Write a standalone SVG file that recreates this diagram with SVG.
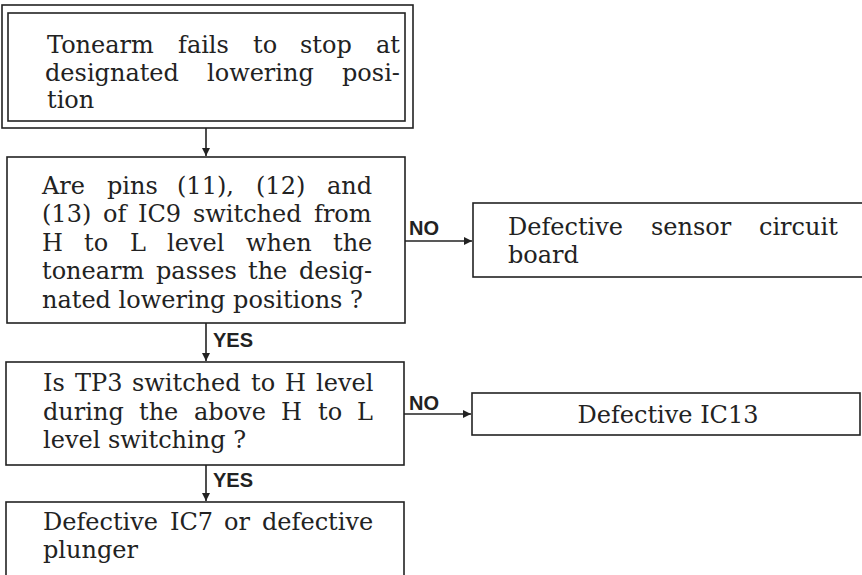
<svg xmlns="http://www.w3.org/2000/svg" width="862" height="575" viewBox="0 0 862 575">
<defs>
<style>
.box{fill:none;stroke:#222;stroke-width:1.6}
.t{font-family:"DejaVu Serif","Liberation Serif",serif;font-size:24px;fill:#222}
.lbl{font-family:"Liberation Sans",Arial,sans-serif;font-size:20px;font-weight:bold;fill:#222}
.conn{fill:none;stroke:#222;stroke-width:1.6}
</style>
<marker id="ah" viewBox="0 0 10 10" refX="10" refY="5" markerWidth="8" markerHeight="8" markerUnits="userSpaceOnUse" orient="auto">
<path d="M0,0 L10,5 L0,10 z" fill="#222"/>
</marker>
</defs>
<rect width="862" height="575" fill="#fff"/>

<g id="start">
<rect class="box" x="2" y="5" width="411" height="123"/>
<rect class="box" x="8" y="13" width="397" height="108"/>
<text class="t" y="53"><tspan x="47">Tonearm</tspan><tspan x="178">fails</tspan><tspan x="253">to</tspan><tspan x="300">stop</tspan><tspan x="376">at</tspan></text>
<text class="t" y="80.5"><tspan x="45">designated</tspan><tspan x="207">lowering</tspan><tspan x="342">posi-</tspan></text>
<text class="t" x="47" y="108">tion</text>
</g>

<g id="q1">
<rect class="box" x="7" y="157" width="398" height="166"/>
<text class="t" y="193.5"><tspan x="42">Are</tspan><tspan x="107">pins</tspan><tspan x="177">(11),</tspan><tspan x="256">(12)</tspan><tspan x="327">and</tspan></text>
<text class="t" y="222"><tspan x="42">(13)</tspan><tspan x="103">of</tspan><tspan x="138">IC9</tspan><tspan x="193">switched</tspan><tspan x="314">from</tspan></text>
<text class="t" y="250.5"><tspan x="42">H</tspan><tspan x="84">to</tspan><tspan x="130">L</tspan><tspan x="167">level</tspan><tspan x="246">when</tspan><tspan x="333">the</tspan></text>
<text class="t" y="279"><tspan x="42">tonearm</tspan><tspan x="156">passes</tspan><tspan x="248">the</tspan><tspan x="299">desig-</tspan></text>
<text class="t" x="42" y="307.5">nated lowering positions ?</text>
</g>

<g id="sensor">
<rect class="box" x="473" y="203" width="400" height="74"/>
<text class="t" y="235"><tspan x="508">Defective</tspan><tspan x="651">sensor</tspan><tspan x="759">circuit</tspan></text>
<text class="t" x="508" y="263">board</text>
</g>

<g id="q2">
<rect class="box" x="6" y="362" width="398" height="103"/>
<text class="t" y="391"><tspan x="43">Is</tspan><tspan x="75">TP3</tspan><tspan x="132">switched</tspan><tspan x="251">to</tspan><tspan x="285">H</tspan><tspan x="316">level</tspan></text>
<text class="t" y="420"><tspan x="43">during</tspan><tspan x="139">the</tspan><tspan x="194">above</tspan><tspan x="281">H</tspan><tspan x="318">to</tspan><tspan x="357">L</tspan></text>
<text class="t" x="43" y="448">level switching ?</text>
</g>

<g id="ic13">
<rect class="box" x="472" y="393" width="388" height="42"/>
<text class="t" x="668" y="423" text-anchor="middle">Defective IC13</text>
</g>

<g id="result">
<rect class="box" x="6" y="502" width="398" height="100"/>
<text class="t" y="530"><tspan x="43">Defective</tspan><tspan x="170">IC7</tspan><tspan x="224">or</tspan><tspan x="262">defective</tspan></text>
<text class="t" x="43" y="558">plunger</text>
</g>

<g id="connectors">
<line class="conn" x1="206" y1="128" x2="206" y2="156" marker-end="url(#ah)"/>
<line class="conn" x1="206" y1="323" x2="206" y2="361" marker-end="url(#ah)"/>
<line class="conn" x1="206" y1="465" x2="206" y2="501" marker-end="url(#ah)"/>
<line class="conn" x1="405" y1="241" x2="472" y2="241" marker-end="url(#ah)"/>
<line class="conn" x1="404" y1="414" x2="471" y2="414" marker-end="url(#ah)"/>
<text class="lbl" x="213" y="347">YES</text>
<text class="lbl" x="213" y="487">YES</text>
<text class="lbl" x="409" y="235">NO</text>
<text class="lbl" x="409" y="410">NO</text>
</g>
</svg>
